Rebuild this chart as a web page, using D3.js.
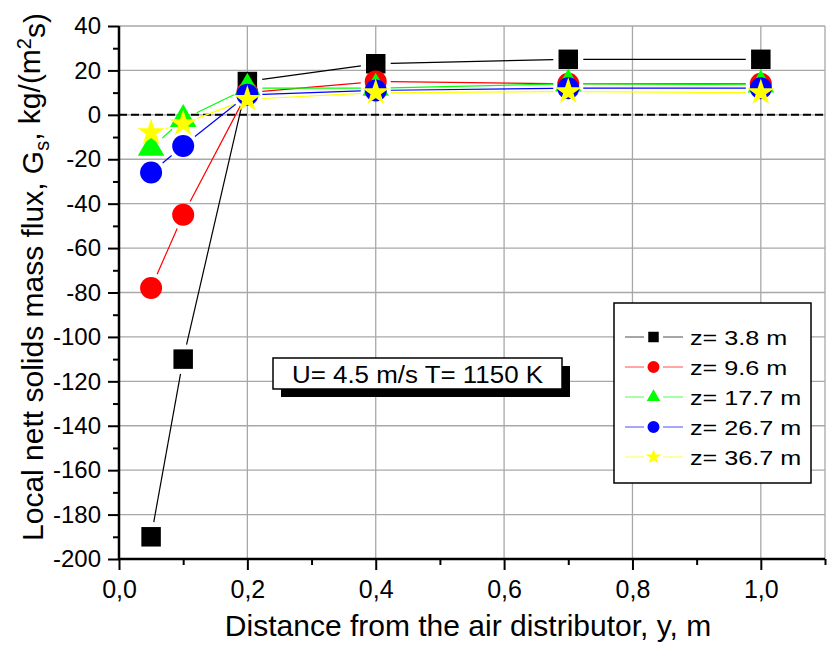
<!DOCTYPE html>
<html>
<head>
<meta charset="utf-8">
<script src="https://cdn.jsdelivr.net/npm/d3@7"></script>
<style>
  body { margin: 0; background: #fff; }
  svg { display: block; }
  text { font-family: "Liberation Sans", Arial, sans-serif; fill: #000; }
</style>
</head>
<body>
<div id="chart"></div>
<script>
//-----------------------------DATA------------------------------//
const distances = [0.05, 0.1, 0.2, 0.4, 0.7, 1.0];
const seriesNames = ["z= 3.8 m", "z= 9.6 m", "z= 17.7 m", "z= 26.7 m", "z= 36.7 m"];
const flux_z38 = [-190, -110, 15, 23, 25, 25];
const flux_z96 = [-78, -45, 10, 15, 14, 14];
const flux_z177 = [-15, -2, 12, 12, 14, 13.5];
const flux_z267 = [-26, -14, 9, 11, 12, 12];
const flux_z367 = [-8, -4, 7, 10, 10.5, 10];
const xTicks = [0, 0.2, 0.4, 0.6, 0.8, 1.0];
const yTicks = d3.range(-200, 41, 20);
const annotation = "U= 4.5 m/s T= 1150 K";

const width = 834;
const height = 645;
const plot = { left: 119, right: 825, top: 26, bottom: 559 };

const colors = ["#000000", "#ff0000", "#00ff00", "#0000ff", "#ffff00"];
const shapes = [d3.symbolSquare, d3.symbolCircle, d3.symbolTriangle, d3.symbolCircle, d3.symbolStar];
const bigSizes = [380, 380, 305, 380, 226];
const smallSizes = [110, 113, 80, 113, 75];

const allSeries = [flux_z38, flux_z96, flux_z177, flux_z267, flux_z367].map(function (vals, i) {
  return {
    id: seriesNames[i],
    color: colors[i],
    shape: shapes[i],
    values: vals.map(function (v, j) { return { dist: distances[j], flux: v }; })
  };
});

const svg = d3.select("#chart").append("svg")
  .attr("width", width)
  .attr("height", height);

//----------------------------SCALES-----------------------------//
const xScale = d3.scaleLinear().domain([0, 1.1]).range([plot.left, plot.right]);
const yScale = d3.scaleLinear().domain([-200, 40]).range([plot.bottom, plot.top]);

//-----------------------------GRID------------------------------//
const grid = svg.append("g").attr("stroke", "#a8a8a8").attr("stroke-width", 1.3);
grid.selectAll("line.gx")
  .data(xTicks.slice(1).concat([1.1]))
  .enter().append("line")
  .attr("x1", d => xScale(d)).attr("x2", d => xScale(d))
  .attr("y1", plot.top).attr("y2", plot.bottom);
grid.selectAll("line.gy")
  .data(yTicks.slice(1))
  .enter().append("line")
  .attr("x1", plot.left).attr("x2", plot.right)
  .attr("y1", d => yScale(d)).attr("y2", d => yScale(d));

// zero line
svg.append("line")
  .attr("x1", plot.left).attr("x2", plot.right)
  .attr("y1", yScale(0)).attr("y2", yScale(0))
  .attr("stroke", "#000")
  .attr("stroke-width", 2)
  .attr("stroke-dasharray", "8,4");

//-----------------------------AXES------------------------------//
const yAxis = d3.axisLeft(yScale)
  .tickValues(yTicks)
  .tickSize(11)
  .tickPadding(7)
  .tickFormat(d => String(d));
const yMinor = d3.axisLeft(yScale)
  .tickValues(d3.range(-190, 40, 20))
  .tickSize(6)
  .tickFormat("");
const xAxis = d3.axisBottom(xScale)
  .tickValues(xTicks)
  .tickSize(11)
  .tickPadding(10)
  .tickFormat(d => d3.format(".1f")(d).replace(".", ","));
const xMinor = d3.axisBottom(xScale)
  .tickValues([0.1, 0.3, 0.5, 0.7, 0.9, 1.1])
  .tickSize(6)
  .tickFormat("");

function styleAxis(g) {
  g.select(".domain").remove();
  g.selectAll(".tick line").attr("stroke", "#000").attr("stroke-width", 2);
}

svg.append("g")
  .attr("transform", "translate(" + plot.left + ",0)")
  .call(yAxis)
  .call(styleAxis)
  .selectAll("text")
  .style("font-size", "24px")
  .style("font-family", "Liberation Sans, Arial, sans-serif");

svg.append("g")
  .attr("transform", "translate(" + plot.left + ",0)")
  .call(yMinor)
  .call(styleAxis);

svg.append("g")
  .attr("transform", "translate(0," + plot.bottom + ")")
  .call(xAxis)
  .call(styleAxis)
  .selectAll("text")
  .style("font-size", "25px")
  .style("font-family", "Liberation Sans, Arial, sans-serif");

svg.append("g")
  .attr("transform", "translate(0," + plot.bottom + ")")
  .call(xMinor)
  .call(styleAxis);

// axis lines
svg.append("line")
  .attr("x1", plot.left).attr("x2", plot.left)
  .attr("y1", plot.top).attr("y2", plot.bottom + 1)
  .attr("stroke", "#000").attr("stroke-width", 2.5);
svg.append("line")
  .attr("x1", plot.left - 1).attr("x2", plot.right)
  .attr("y1", plot.bottom).attr("y2", plot.bottom)
  .attr("stroke", "#000").attr("stroke-width", 2.5);

// axis titles
svg.append("text")
  .attr("x", 468)
  .attr("y", 636)
  .attr("text-anchor", "middle")
  .style("font-size", "30px")
  .text("Distance from the air distributor, y, m");

const yTitle = svg.append("text")
  .attr("transform", "translate(43,277) rotate(-90)")
  .attr("text-anchor", "middle")
  .style("font-size", "30px");
yTitle.append("tspan").text("Local nett solids mass flux, G");
yTitle.append("tspan").attr("dy", "0.3em").style("font-size", "20px").text("s");
yTitle.append("tspan").attr("dy", "-0.3em").text(", kg/(m");
yTitle.append("tspan").attr("dy", "-0.45em").style("font-size", "20px").text("2");
yTitle.append("tspan").attr("dy", "0.45em").text("s)");

//-------------------------ANNOTATION----------------------------//
const note = { x: 273, y: 358, w: 289, h: 31 };
svg.append("rect")
  .attr("x", note.x + 8).attr("y", note.y + 8)
  .attr("width", note.w).attr("height", note.h)
  .attr("fill", "#000");
svg.append("rect")
  .attr("x", note.x).attr("y", note.y)
  .attr("width", note.w).attr("height", note.h)
  .attr("fill", "#fff").attr("stroke", "#000").attr("stroke-width", 1.5);
svg.append("text")
  .attr("transform", "translate(" + (note.x + note.w / 2) + "," + (note.y + 25) + ") scale(1.08,1)")
  .attr("text-anchor", "middle")
  .style("font-size", "24px")
  .text(annotation);

//----------------------------LINES------------------------------//
const gap = 15;
function segments(values) {
  const segs = [];
  for (let k = 0; k < values.length - 1; k++) {
    const x1 = xScale(values[k].dist), y1 = yScale(values[k].flux);
    const x2 = xScale(values[k + 1].dist), y2 = yScale(values[k + 1].flux);
    const len = Math.hypot(x2 - x1, y2 - y1);
    if (len <= 2 * gap) continue;
    const ux = (x2 - x1) / len, uy = (y2 - y1) / len;
    segs.push([x1 + ux * gap, y1 + uy * gap, x2 - ux * gap, y2 - uy * gap]);
  }
  return segs;
}

const seriesG = svg.selectAll("g.series")
  .data(allSeries)
  .enter()
  .append("g")
  .attr("class", "series");

seriesG.selectAll("line")
  .data(d => segments(d.values).map(s => ({ s: s, color: d.color })))
  .enter().append("line")
  .attr("x1", d => d.s[0]).attr("y1", d => d.s[1])
  .attr("x2", d => d.s[2]).attr("y2", d => d.s[3])
  .attr("stroke", d => d.color)
  .attr("stroke-width", 1.2);

seriesG.each(function (d, i) {
  d3.select(this).selectAll("path.marker")
    .data(d.values)
    .enter().append("path")
    .attr("class", "marker")
    .attr("d", d3.symbol().type(d.shape).size(bigSizes[i]))
    .attr("transform", v => "translate(" + xScale(v.dist) + "," + yScale(v.flux) + ")")
    .attr("fill", d.color);
});

//----------------------------LEGEND-----------------------------//
const legend = svg.append("g");
legend.append("rect")
  .attr("x", 614).attr("y", 303)
  .attr("width", 197).attr("height", 180)
  .attr("fill", "#fff").attr("stroke", "#000").attr("stroke-width", 1.5);

const rows = legend.selectAll("g.row")
  .data(allSeries)
  .enter().append("g")
  .attr("class", "row")
  .attr("transform", (d, i) => "translate(0," + (337 + i * 30) + ")");

rows.append("line")
  .attr("x1", 625).attr("x2", 644).attr("y1", 0).attr("y2", 0)
  .attr("stroke", d => d.color).attr("stroke-width", 1).attr("stroke-opacity", 0.7);
rows.append("line")
  .attr("x1", 663).attr("x2", 683).attr("y1", 0).attr("y2", 0)
  .attr("stroke", d => d.color).attr("stroke-width", 1).attr("stroke-opacity", 0.7);
rows.append("path")
  .attr("d", (d, i) => d3.symbol().type(d.shape).size(smallSizes[i])())
  .attr("transform", "translate(653.5,0)")
  .attr("fill", d => d.color);
rows.append("text")
  .attr("transform", "translate(690,7.5) scale(1.2,1)")
  .style("font-size", "21px")
  .text(d => d.id);
</script>
</body>
</html>
